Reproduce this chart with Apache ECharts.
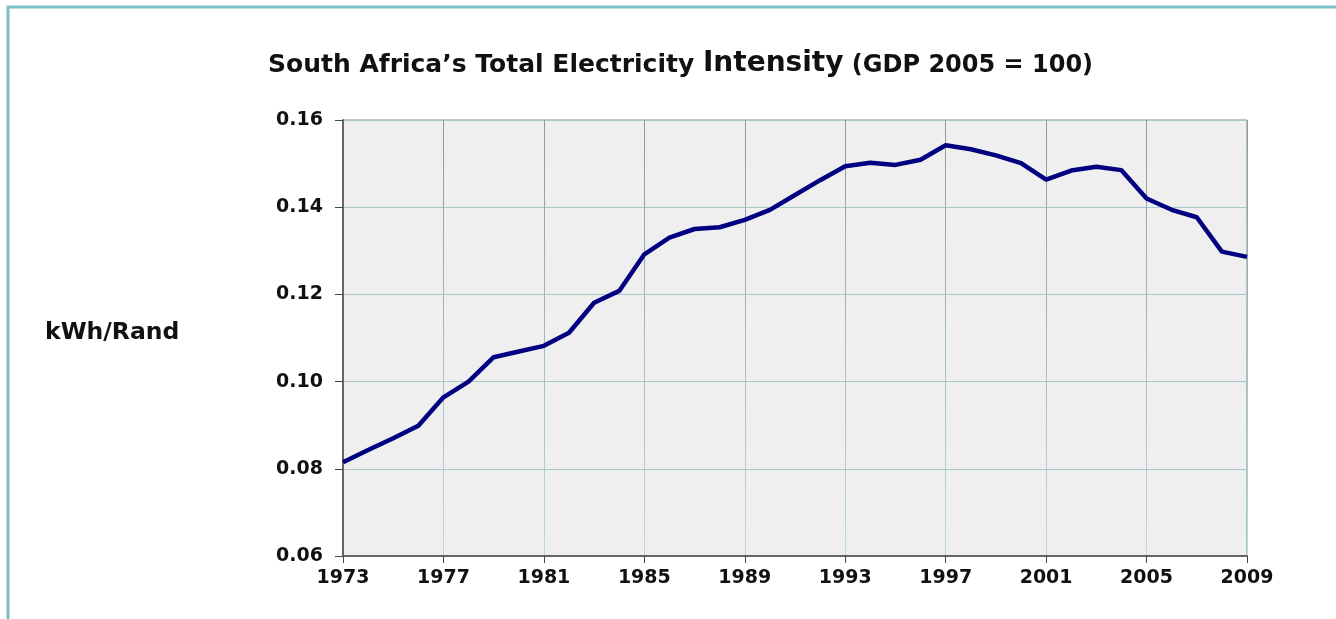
<!DOCTYPE html>
<html>
<head>
<meta charset="utf-8">
<script src="https://cdn.jsdelivr.net/npm/echarts@6/dist/echarts.min.js"></script>
<style>html,body{margin:0;padding:0;background:#fff;}#c{width:1336px;height:619px;}</style>
</head>
<body>
<div id="c"></div>
<script>
const years = [1973,1974,1975,1976,1977,1978,1979,1980,1981,1982,1983,1984,1985,1986,1987,1988,1989,1990,1991,1992,1993,1994,1995,1996,1997,1998,1999,2000,2001,2002,2003,2004,2005,2006,2007,2008,2009];
const intensity = [0.0815,0.0843,0.0870,0.0899,0.0964,0.1000,0.1056,0.1069,0.1082,0.1112,0.1181,0.1208,0.1292,0.1330,0.1350,0.1354,0.1371,0.1394,0.1428,0.1462,0.1494,0.1502,0.1497,0.1509,0.1542,0.1533,0.1519,0.1501,0.1463,0.1484,0.1493,0.1485,0.1420,0.1394,0.1377,0.1298,0.1286];
const yTicks = [0.06,0.08,0.10,0.12,0.14,0.16];

const chart = echarts.init(document.getElementById('c'), null, {renderer:'canvas'});
const F = '"DejaVu Sans", "Liberation Sans", Arial, sans-serif';
chart.setOption({
  animation:false,
  backgroundColor:'#ffffff',
  title:{
    text:'{c|South Africa\u2019s Total Electricity }{b|Intensity}{a| (GDP 2005 = 100)}',
    left:263, top:37,
    textStyle:{
      rich:{
        c:{fontFamily:F,fontWeight:'bold',fontSize:25,color:'#111',verticalAlign:'bottom',lineHeight:36},
        a:{fontFamily:F,fontWeight:'bold',fontSize:24,color:'#111',verticalAlign:'bottom',lineHeight:36},
        b:{fontFamily:F,fontWeight:'bold',fontSize:28,color:'#111',verticalAlign:'bottom',lineHeight:36}
      }
    }
  },
  graphic:[
    {type:'rect',shape:{x:8,y:7,width:1340,height:630},style:{fill:'none',stroke:'#7cc0c4',lineWidth:3},silent:true},
    {type:'text',x:45,y:333,style:{text:'kWh/Rand',font:'bold 23.5px '+F,fill:'#111',textVerticalAlign:'middle'}}
  ],
  grid:{left:343,right:89,top:120,bottom:63,show:true,backgroundColor:'#efefef',borderColor:'#7f9090',borderWidth:1},
  xAxis:{
    type:'category',data:years,boundaryGap:false,
    axisLine:{lineStyle:{color:'#666',width:2}},
    axisTick:{show:true,interval:3,length:7,lineStyle:{color:'#444',width:1}},
    axisLabel:{interval:3,fontFamily:F,fontWeight:'bold',fontSize:19,color:'#111',margin:13},
    splitLine:{show:true,interval:3,lineStyle:{width:1,color:new echarts.graphic.LinearGradient(0,0,0,1,[{offset:0,color:'#889c9c'},{offset:1,color:'#b6dde0'}])}}
  },
  yAxis:{
    type:'value',min:0.06,max:0.16,interval:0.02,
    axisLine:{show:true,lineStyle:{color:'#666',width:2}},
    axisTick:{show:true,length:8,lineStyle:{color:'#444',width:1}},
    axisLabel:{fontFamily:F,fontWeight:'bold',fontSize:19,color:'#111',margin:20,formatter:v=>v.toFixed(2)},
    splitLine:{show:true,lineStyle:{color:'#a6c8ca',width:1}}
  },
  series:[{
    type:'line',data:intensity,symbol:'none',
    lineStyle:{color:'#000080',width:4.5},
    z:5
  }]
});
</script>
</body>
</html>
